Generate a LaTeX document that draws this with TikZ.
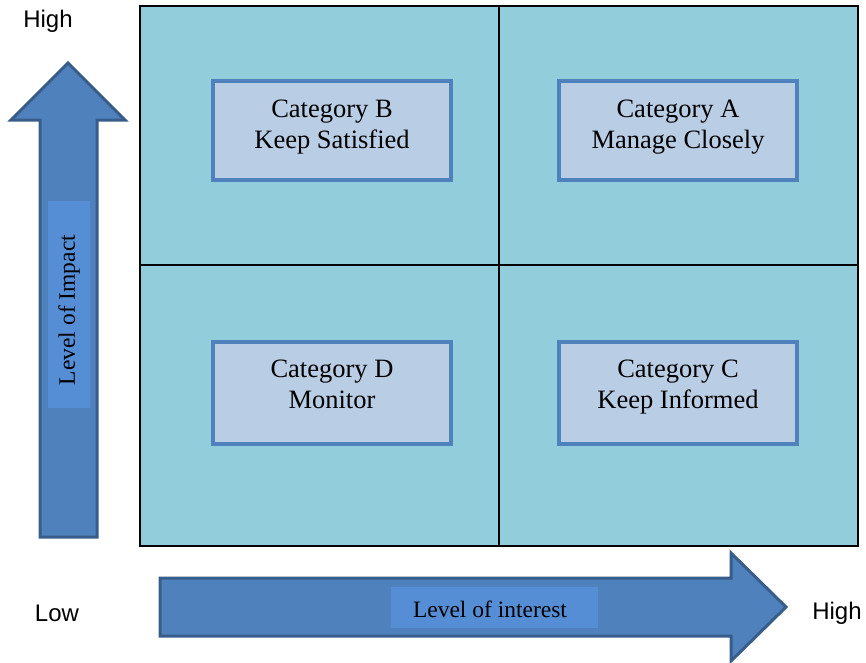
\documentclass[tikz,border=0pt]{standalone}
\usepackage{fontspec}
\setmainfont{Liberation Serif}
\newfontfamily\axisfont{Liberation Sans}
\definecolor{gridfill}{HTML}{92CDDC}
\definecolor{boxfill}{HTML}{B9CDE5}
\definecolor{boxline}{HTML}{4F81BD}
\definecolor{arrowfill}{HTML}{4F81BD}
\definecolor{arrowline}{HTML}{385D8A}
\definecolor{tagfill}{HTML}{558ED5}
\tikzset{
  catbox/.style={draw=boxline, fill=boxfill, line width=4pt,
    minimum width=238pt, inner sep=0pt},
  cattext/.style={align=center, inner sep=0pt,
    font=\fontsize{26.5}{31}\selectfont},
  bigarrow/.style={draw=arrowline, fill=arrowfill, line width=3pt, line join=miter},
  tag/.style={fill=tagfill, inner sep=0pt, font=\fontsize{23.5}{28}\selectfont},
  axislabel/.style={font=\axisfont\fontsize{24}{28}\selectfont, inner sep=0pt}
}
\begin{document}
\begin{tikzpicture}[x=1pt, y=-1pt]
\useasboundingbox (0,0) rectangle (866,662);

% quadrant grid
\draw[fill=gridfill, line width=2pt] (140,6) rectangle (858,546);
\draw[line width=1.5pt] (499,6) -- (499,546);
\draw[line width=1.5pt] (140,265) -- (858,265);

% category boxes
\node[catbox, minimum height=99pt] (catB) at (332,130.5) {};
\node[catbox, minimum height=99pt] (catA) at (678,130.5) {};
\node[catbox, minimum height=102pt] (catD) at (332,393) {};
\node[catbox, minimum height=102pt] (catC) at (678,393) {};
% two-line captions, placed by the baseline of their last line
\node[cattext, anchor=base] (catBtext) at (332,148) {Category B\\Keep Satisfied};
\node[cattext, anchor=base] (catAtext) at (678,148) {Category A\\Manage Closely};
\node[cattext, anchor=base] (catDtext) at (332,408) {Category D\\Monitor};
\node[cattext, anchor=base] (catCtext) at (678,408) {Category C\\Keep Informed};

% vertical axis arrow
\draw[bigarrow] (40,537) -- (40,120) -- (11,120) -- (68,63) -- (125,120)
  -- (97,120) -- (97,537) -- cycle;
\fill[tagfill] (48,201) rectangle (90,408);
\node[tag, rotate=90] (impact) at (69,310) {Level of Impact};

% horizontal axis arrow
\draw[bigarrow] (160,578) -- (731,578) -- (731,553) -- (786,607) -- (731,661)
  -- (731,636) -- (160,636) -- cycle;
\fill[tagfill] (391,587) rectangle (598,628);
\node[tag] (interest) at (490,609) {Level of interest};

% axis end labels
\node[axislabel] (highV) at (48,21) {High};
\node[axislabel] (low) at (57,613) {Low};
\node[axislabel] (highH) at (837,613) {High};
\end{tikzpicture}
\end{document}
